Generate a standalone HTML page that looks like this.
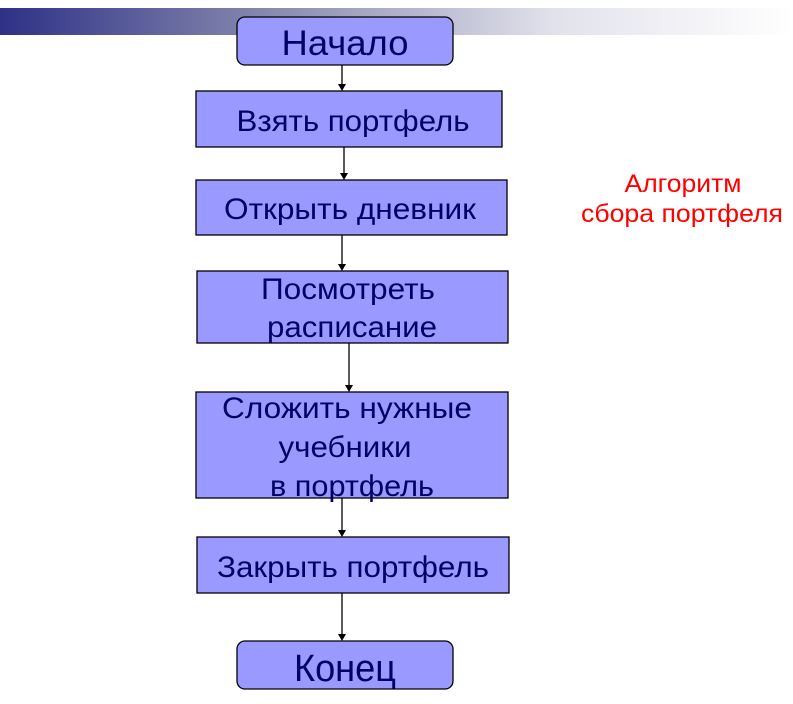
<!DOCTYPE html>
<html><head><meta charset="utf-8"><style>
html,body{margin:0;padding:0;background:#fff;}
svg{display:block;}
text{font-family:"Liberation Sans",sans-serif;fill:#000066;text-anchor:middle;}
</style></head><body>
<svg width="793" height="704" viewBox="0 0 793 704">
<defs>
<linearGradient id="g" x1="0" x2="1" y1="0" y2="0">
<stop offset="0" stop-color="#2e3186"/>
<stop offset="0.35" stop-color="#8a8cb0"/>
<stop offset="0.7" stop-color="#e2e2ec"/>
<stop offset="1" stop-color="#ffffff"/>
</linearGradient>
</defs>
<rect x="0" y="8" width="793" height="27" fill="url(#g)"/>
<g stroke="#000" stroke-width="1.3">
<line x1="342" y1="65" x2="342" y2="86"/>
<line x1="344" y1="147" x2="344" y2="175"/>
<line x1="342" y1="235" x2="342" y2="266"/>
<line x1="349" y1="343" x2="349" y2="387"/>
<line x1="342" y1="498" x2="342" y2="532"/>
<line x1="342" y1="593" x2="342" y2="636"/>
</g>
<g fill="#000">
<path d="M338,84 L346,84 L342,91 Z"/>
<path d="M340,173 L348,173 L344,180 Z"/>
<path d="M338,264 L346,264 L342,271 Z"/>
<path d="M345,385 L353,385 L349,392 Z"/>
<path d="M338,530 L346,530 L342,537 Z"/>
<path d="M338,634 L346,634 L342,641 Z"/>
</g>
<g fill="#9999ff" stroke="#000" stroke-width="1.3">
<rect x="237" y="17" width="216" height="48" rx="8"/>
<rect x="196" y="91" width="306" height="56"/>
<rect x="196" y="180" width="311" height="55"/>
<rect x="197" y="271" width="311" height="72"/>
<rect x="196" y="392" width="312" height="106"/>
<rect x="197" y="537" width="312" height="56"/>
<rect x="237" y="641" width="216" height="48" rx="8"/>
</g>
<text x="345" y="55" font-size="35" textLength="127" lengthAdjust="spacingAndGlyphs">Начало</text>
<text x="353" y="131" font-size="30" textLength="233" lengthAdjust="spacingAndGlyphs">Взять портфель</text>
<text x="350" y="219" font-size="30" textLength="252" lengthAdjust="spacingAndGlyphs">Открыть дневник</text>
<text x="348" y="299" font-size="30" textLength="174" lengthAdjust="spacingAndGlyphs">Посмотреть</text>
<text x="352" y="337" font-size="30" textLength="170" lengthAdjust="spacingAndGlyphs">расписание</text>
<text x="347" y="418" font-size="30" textLength="250" lengthAdjust="spacingAndGlyphs">Сложить нужные</text>
<text x="345" y="457" font-size="30" textLength="133" lengthAdjust="spacingAndGlyphs">учебники</text>
<text x="352" y="496" font-size="30" textLength="164" lengthAdjust="spacingAndGlyphs">в портфель</text>
<text x="353" y="577" font-size="30" textLength="272" lengthAdjust="spacingAndGlyphs">Закрыть портфель</text>
<text x="345" y="681" font-size="38" textLength="102" lengthAdjust="spacingAndGlyphs">Конец</text>
<text x="683" y="192" font-size="25" style="fill:#ff0000" textLength="117" lengthAdjust="spacingAndGlyphs">Алгоритм</text>
<text x="682" y="222" font-size="25" style="fill:#ff0000" textLength="202" lengthAdjust="spacingAndGlyphs">сбора портфеля</text>
</svg>
</body></html>
